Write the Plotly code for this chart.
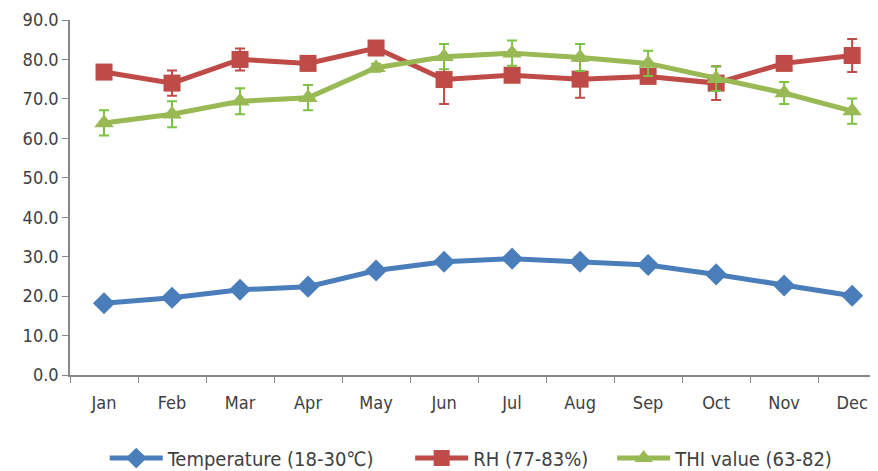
import plotly.graph_objects as go

months = ["Jan", "Feb", "Mar", "Apr", "May", "Jun", "Jul", "Aug", "Sep", "Oct", "Nov", "Dec"]
temperature = [18.2, 19.6, 21.6, 22.4, 26.5, 28.7, 29.5, 28.7, 27.9, 25.5, 22.7, 20.1]
temp_err = [1.0, 0.5, 0.5, 0.5, 0.5, 0.5, 0.5, 0.5, 0.5, 0.5, 0.5, 0.5]
rh = [76.8, 74.0, 80.0, 79.0, 82.9, 74.9, 76.0, 75.0, 75.7, 74.0, 79.0, 81.0]
rh_err = [1.0, 3.2, 2.8, 1.0, 1.0, 6.2, 1.0, 4.7, 1.0, 4.3, 1.0, 4.2]
thi = [63.9, 66.1, 69.4, 70.3, 77.9, 80.7, 81.6, 80.5, 79.0, 75.1, 71.5, 66.9]
thi_err = [3.2, 3.3, 3.3, 3.2, 1.0, 3.2, 3.2, 3.4, 3.2, 3.1, 2.8, 3.2]
names = ["Temperature (18-30\u2103)", "RH (77-83%)", "THI value (63-82)"]

colors = ["#4A7EBB", "#BE4B48", "#98B954"]
err_colors = ["#4A7EBB", "#BE4B48", "#7DC242"]
symbols = ["diamond", "square", "triangle-up"]
legend_ids = ["legend", "legend2", "legend3"]
legend_x = [0.043, 0.421, 0.671]
series = [(temperature, temp_err), (rh, rh_err), (thi, thi_err)]

fig = go.Figure()
for (vals, errs), name, col, ecol, sym, lid in zip(series, names, colors, err_colors, symbols, legend_ids):
    fig.add_trace(go.Scatter(
        x=months, y=vals, name=name, mode="lines+markers",
        line=dict(color=col, width=5),
        marker=dict(symbol=sym, size=17, color=col),
        error_y=dict(type="data", array=errs, visible=True, color=ecol, thickness=2, width=5),
        legend=lid,
    ))

font_family = "DejaVu Sans Condensed, Liberation Sans, sans-serif"
legend_common = dict(orientation="h", xanchor="left", yref="container", y=0.028, yanchor="middle",
                     font=dict(size=20, color="#404040"), itemwidth=53,
                     bgcolor="rgba(0,0,0,0)")
fig.update_layout(
    width=870, height=463,
    margin=dict(l=62, r=0, t=12, b=96, autoexpand=False),
    paper_bgcolor="white", plot_bgcolor="white",
    font=dict(family=font_family, size=17, color="#404040"),
    showlegend=True,
    legend=dict(x=legend_x[0], **legend_common),
    legend2=dict(x=legend_x[1], **legend_common),
    legend3=dict(x=legend_x[2], **legend_common),
    xaxis=dict(
        type="category", range=[-0.5, 11.38], showgrid=False, automargin=False,
        showline=True, linecolor="#888888", linewidth=1.5,
        ticks="outside", ticklen=6, tickcolor="#888888", tickson="boundaries",
        tickfont=dict(size=18), ticklabelstandoff=11,
    ),
    yaxis=dict(
        range=[0, 90], dtick=10, tickformat=".1f", showgrid=False, zeroline=False,
        automargin=False,
        showline=True, linecolor="#888888", linewidth=1.5,
        ticks="outside", ticklen=6, tickcolor="#888888",
        tickfont=dict(size=18),
    ),
)

fig.write_html("out.html")
